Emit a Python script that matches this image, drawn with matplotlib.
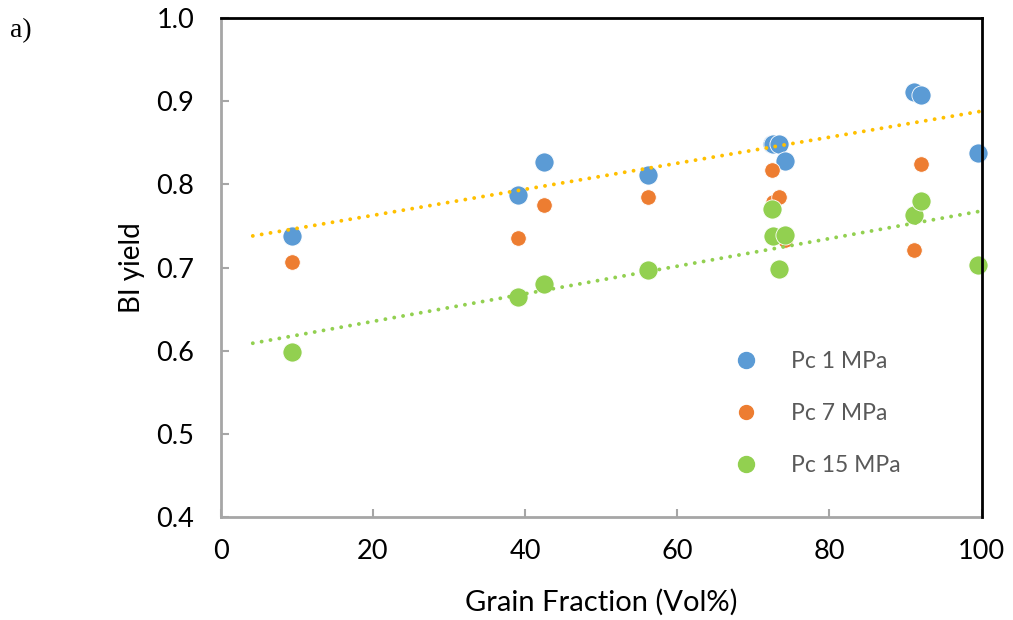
import matplotlib
matplotlib.use("Agg")
import matplotlib.pyplot as plt
from matplotlib.lines import Line2D

# Grain fraction (Vol%) of each sample
grain = [9.3, 39.1, 42.5, 56.2, 72.4, 72.6, 73.4, 74.1, 91.1, 92.1, 99.5]

# BI yield at each confining pressure
bi_1mpa = [0.738, 0.787, 0.827, 0.811, 0.849, 0.848, 0.849, 0.828, 0.911, 0.907, 0.838]
bi_7mpa = [0.707, 0.736, 0.775, 0.785, 0.817, 0.779, 0.785, 0.733, 0.721, 0.824, 0.703]
bi_15mpa = [0.598, 0.665, 0.680, 0.697, 0.770, 0.738, 0.698, 0.739, 0.763, 0.780, 0.703]

# Linear trendline end points
trend_x = [4.2, 100.0]
trend_1mpa = [0.738, 0.888]
trend_15mpa = [0.609, 0.768]

series_labels = ["Pc 1 MPa", "Pc 7 MPa", "Pc 15 MPa"]

blue = "#5B9BD5"
orange = "#ED7D31"
green = "#92D050"
gold = "#FFC000"

fig = plt.figure(figsize=(10.13, 6.2), dpi=100)
ax = fig.add_axes([0.218, 0.166, 0.751, 0.805])

ax.scatter(grain, bi_1mpa, s=190, color=blue, edgecolors="white", linewidths=0.6,
           zorder=3, clip_on=False)
ax.scatter(grain, bi_7mpa, s=125, color=orange, edgecolors="white", linewidths=0.6,
           zorder=4, clip_on=False)
ax.scatter(grain, bi_15mpa, s=190, color=green, edgecolors="white", linewidths=0.6,
           zorder=5, clip_on=False)

ax.plot(trend_x, trend_1mpa, color=gold, lw=2.8, linestyle=(0, (0.01, 2.3)),
        dash_capstyle="round", zorder=6)
ax.plot(trend_x, trend_15mpa, color=green, lw=2.8, linestyle=(0, (0.01, 2.3)),
        dash_capstyle="round", zorder=6)

ax.set_xlim(0, 100)
ax.set_ylim(0.4, 1.0)
ax.set_xticks([0, 20, 40, 60, 80, 100])
ax.set_yticks([0.4, 0.5, 0.6, 0.7, 0.8, 0.9, 1.0])
ax.set_yticklabels(["0.4", "0.5", "0.6", "0.7", "0.8", "0.9", "1.0"])

font = "Lato"
for lab in ax.get_xticklabels() + ax.get_yticklabels():
    lab.set_fontfamily(font)
    lab.set_fontsize(19.5)
ax.tick_params(axis="both", direction="in", length=6, width=1.5, color="#A6A6A6")
ax.tick_params(axis="y", pad=19)
ax.tick_params(axis="x", pad=16)

for side in ("left", "bottom"):
    ax.spines[side].set_color("#A6A6A6")
    ax.spines[side].set_linewidth(2)
for side in ("top", "right"):
    ax.spines[side].set_color("black")
    ax.spines[side].set_linewidth(2)
    ax.spines[side].set_zorder(7)

ax.set_xlabel("Grain Fraction (Vol%)", fontfamily=font, fontsize=21, labelpad=18)
ax.set_ylabel("BI yield", fontfamily=font, fontsize=20, labelpad=8)

handles = [
    Line2D([], [], marker="o", linestyle="none", color=blue, markersize=11.5),
    Line2D([], [], marker="o", linestyle="none", color=orange, markersize=10),
    Line2D([], [], marker="o", linestyle="none", color=green, markersize=11.5),
]
leg = ax.legend(handles, series_labels, loc="upper left", bbox_to_anchor=(0.645, 0.375),
                frameon=False, handlelength=1.2, handletextpad=1.35, labelspacing=1.36,
                prop={"family": font, "size": 16.5})
for t in leg.get_texts():
    t.set_color("#595959")

fig.text(0.01, 0.95, "a)", fontfamily="Liberation Serif", fontsize=20, va="center")

fig.savefig("out.png", dpi=100)
